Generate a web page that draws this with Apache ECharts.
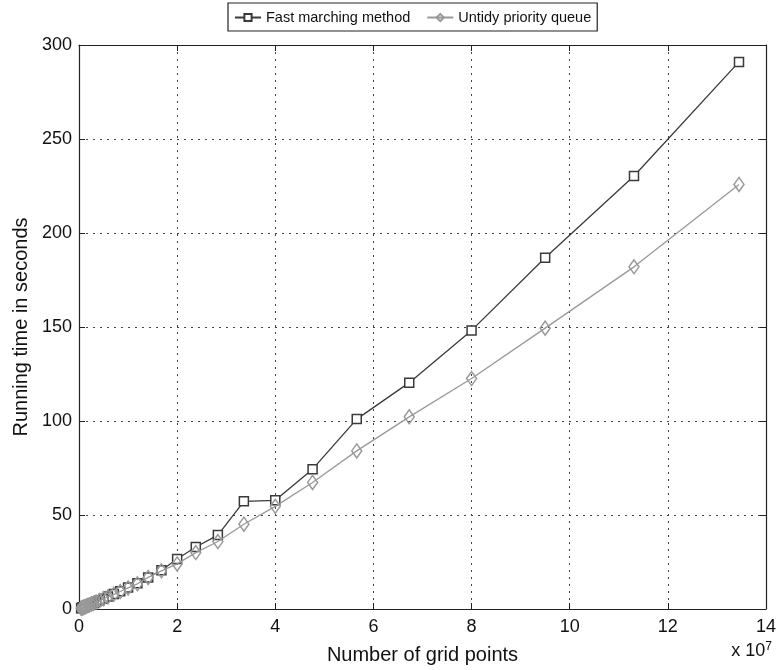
<!DOCTYPE html>
<html>
<head>
<meta charset="utf-8">
<script src="https://cdn.jsdelivr.net/npm/echarts@6/dist/echarts.min.js"></script>
<style>
  html, body { margin: 0; padding: 0; background: #fff; }
  #chart { width: 779px; height: 670px; }
</style>
</head>
<body>
<div id="chart"></div>
<script>
// grid points, in units of 10^7
const gridPoints = [13.45, 11.31, 9.5, 8.0, 6.73, 5.66, 4.76, 4.0, 3.36, 2.83, 2.38, 2.0, 1.68, 1.41,
  1.19, 1.0, 0.84, 0.71, 0.59, 0.5, 0.42, 0.35, 0.3, 0.25, 0.21, 0.18, 0.15, 0.125, 0.105, 0.088,
  0.074, 0.062, 0.052, 0.044]
// running time in seconds
const fastMarching = [291, 230.3, 186.8, 148.2, 120.4, 101, 74.4, 57.8, 57.3, 39.3, 33, 26.6, 20.6, 16.8,
  13.7, 11.5, 9.5, 8, 6.6, 5.5, 4.6, 3.8, 3.2, 2.7, 2.2, 1.9, 1.6, 1.3, 1.1, 0.9,
  0.75, 0.6, 0.5, 0.42]
const untidyQueue = [225.8, 182, 149.4, 122.6, 102.2, 84.1, 67.3, 54.6, 45.1, 35.9, 30, 24, 20.3, 16.8,
  13.4, 11.2, 9.3, 7.8, 6.5, 5.4, 4.5, 3.7, 3.1, 2.6, 2.1, 1.8, 1.5, 1.25, 1.05, 0.85,
  0.7, 0.58, 0.48, 0.4]
const xTicks = { min: 0, max: 14, interval: 2 }
const yTicks = { min: 0, max: 300, interval: 50 }

const chart = echarts.init(document.getElementById('chart'))
const font = 'Liberation Sans, Arial, sans-serif'

const pair = (xs, ys) => xs.map((x, i) => [x, ys[i]])

const axisBase = {
  axisLine: { show: true, onZero: false, lineStyle: { color: '#222', width: 1.2 } },
  axisTick: { show: true, inside: true, length: 6, lineStyle: { color: '#222' } },
}
const gridDots = { show: true, lineStyle: { type: [2, 5], color: '#444', width: 1 } }

chart.setOption({
  animation: false,
  textStyle: { fontFamily: font },
  grid: { left: 79, right: 11, top: 45, bottom: 61 },
  legend: {
    top: 3,
    left: 228,
    padding: [7, 6, 6, 6],
    borderColor: '#222',
    borderWidth: 1.2,
    borderRadius: 0,
    itemWidth: 26,
    itemHeight: 9,
    itemGap: 16,
    textStyle: { fontSize: 14.5, color: '#111', fontFamily: font },
    data: ['Fast marching method', 'Untidy priority queue']
  },
  xAxis: [
    Object.assign({
      type: 'value', ...xTicks, position: 'bottom',
      name: 'Number of grid points', nameLocation: 'middle', nameGap: 36,
      nameTextStyle: { fontSize: 20, color: '#111' },
      axisLabel: { fontSize: 18, color: '#111', margin: 9 },
      splitLine: gridDots
    }, axisBase),
    Object.assign({
      type: 'value', ...xTicks, position: 'top',
      axisLabel: { show: false }, splitLine: { show: false }
    }, axisBase)
  ],
  yAxis: [
    Object.assign({
      type: 'value', ...yTicks, position: 'left',
      name: 'Running time in seconds', nameLocation: 'middle', nameGap: 47,
      nameTextStyle: { fontSize: 20, color: '#111' },
      axisLabel: { fontSize: 18, color: '#111', margin: 7 },
      splitLine: gridDots
    }, axisBase),
    Object.assign({
      type: 'value', ...yTicks, position: 'right',
      axisLabel: { show: false }, splitLine: { show: false }
    }, axisBase)
  ],
  graphic: [{
    type: 'text',
    right: 7,
    top: 641,
    style: {
      text: 'x 10{sup|7}',
      fontSize: 18,
      fontFamily: font,
      fill: '#111',
      rich: { sup: { fontSize: 12, verticalAlign: 'top', padding: [0, 0, 9, 0] } }
    }
  }],
  series: [
    {
      name: 'Fast marching method',
      type: 'line',
      data: pair(gridPoints, fastMarching),
      symbol: 'rect',
      symbolSize: 9,
      showAllSymbol: true,
      lineStyle: { color: '#3a3a3a', width: 1.3 },
      itemStyle: { color: '#fff', borderColor: '#3a3a3a', borderWidth: 1.5 },
      z: 2
    },
    {
      name: 'Untidy priority queue',
      type: 'line',
      data: pair(gridPoints, untidyQueue),
      symbol: 'diamond',
      symbolSize: [10, 14],
      showAllSymbol: true,
      lineStyle: { color: '#999', width: 1.3 },
      itemStyle: { color: 'rgba(255,255,255,0)', borderColor: '#999', borderWidth: 1.5 },
      z: 3
    }
  ]
})
</script>
</body>
</html>
